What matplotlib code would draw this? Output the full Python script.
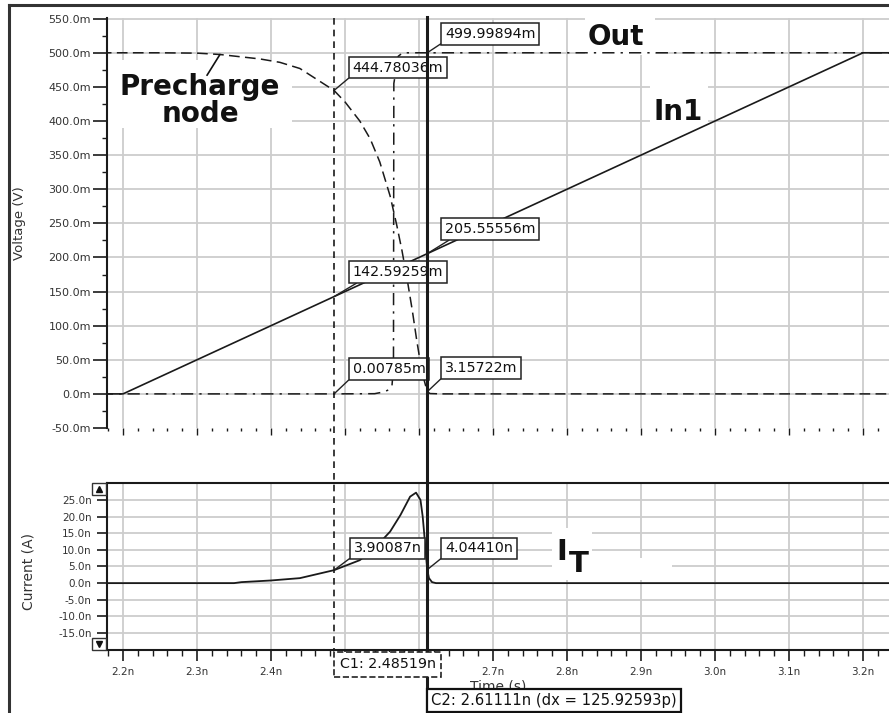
import numpy as np
import matplotlib
matplotlib.use("Agg")
import matplotlib.pyplot as plt
from matplotlib.patches import Rectangle
from matplotlib.lines import Line2D
from matplotlib.ticker import FuncFormatter, MultipleLocator
import matplotlib.transforms as mtransforms

# ---------------- waveform data ----------------
# In1 input ramp (time in ns, voltage in mV)
in1_t = [2.17, 2.20, 3.20, 3.24]
in1_mv = [0.0, 0.0, 500.0, 500.0]

# Precharge node discharge (mV)
pre_t = [2.17, 2.25, 2.30, 2.331, 2.385, 2.412, 2.439, 2.48519, 2.500, 2.520,
         2.534, 2.547, 2.561, 2.570, 2.577, 2.584, 2.591, 2.597, 2.602, 2.607,
         2.61111, 2.615, 2.63, 3.24]
pre_mv = [500.0, 500.0, 499.5, 497.5, 491.0, 486.0, 477.0, 444.78036, 428.0, 400.0,
          374.0, 340.0, 290.0, 247.0, 210.0, 168.0, 122.0, 78.0, 45.0, 20.0,
          3.15722, 0.5, 0.0, 0.0]

# Out node (mV)
out_t = [2.17, 2.48519, 2.54, 2.553, 2.559, 2.5635, 2.5655, 2.566, 2.572, 2.578,
         2.61111, 3.24]
out_mv = [0.0, 0.00785, 0.3, 3.0, 6.0, 12.0, 40.0, 455.0, 495.0, 500.0,
          499.99894, 500.0]

# Supply current I_T (nA)
it_t = [2.17, 2.35, 2.36, 2.40, 2.439, 2.48519, 2.520, 2.540, 2.561, 2.575,
        2.588, 2.596, 2.602, 2.605, 2.607, 2.61111, 2.6135, 2.6176, 2.623, 3.24]
it_na = [0.0, 0.0, 0.3, 0.8, 1.5, 3.90087, 6.9, 10.5, 15.5, 20.5,
         26.0, 27.2, 25.0, 20.0, 15.0, 4.04410, 1.5, 0.3, 0.0, 0.0]

# Cursor positions (ns)
c1_time = 2.48519
c2_time = 2.61111
cursor_text_c1 = "C1: 2.48519n"
cursor_text_c2 = "C2: 2.61111n (dx = 125.92593p)"

# Axis ticks
time_ticks = [2.2, 2.3, 2.4, 2.5, 2.6, 2.7, 2.8, 2.9, 3.0, 3.1, 3.2]
time_labels = ["2.2n", "2.3n", "2.4n", "", "", "2.7n", "2.8n", "2.9n", "3.0n", "3.1n", "3.2n"]
volt_ticks = list(range(-50, 551, 50))
curr_ticks = list(range(-15, 26, 5))

# ---------------- figure layout ----------------
W, H = 889, 713
fig = plt.figure(figsize=(W / 100, H / 100), dpi=100)
fig.patch.set_facecolor("white")


def fx(px):
    return px / W


def fy(py):
    return 1 - py / H


T_MIN, T_MAX = 2.178378, 3.235135
INK = "#1a1a1a"
GRID = "#cdcdcd"
LBL = "#333333"

ax_v = fig.add_axes([fx(107), fy(428), 1 - fx(107), fy(18) - fy(428)])
ax_i = fig.add_axes([fx(107), fy(650), 1 - fx(107), fy(483) - fy(650)])

for ax in (ax_v, ax_i):
    ax.set_xlim(T_MIN, T_MAX)
    ax.set_axisbelow(True)
    ax.set_xticks(time_ticks)
    ax.xaxis.set_minor_locator(MultipleLocator(0.02))
    for t in time_ticks:
        ax.axvline(t, color=GRID, lw=1.3, zorder=0.5)
    ax.spines["right"].set_visible(False)

ax_v.set_ylim(-50, 551)
ax_i.set_ylim(-20.1, 30.1)

for v in volt_ticks[1:]:
    ax_v.axhline(v, color=GRID, lw=1.3, zorder=0.5)
for v in curr_ticks:
    ax_i.axhline(v, color=GRID, lw=1.3, zorder=0.5)

# voltage axis styling
ax_v.spines["top"].set_visible(False)
ax_v.spines["bottom"].set_visible(False)
ax_v.spines["left"].set_linewidth(1.5)
ax_v.spines["left"].set_color(INK)
ax_v.set_yticks(volt_ticks)
ax_v.set_yticks(list(range(-25, 551, 50)), minor=True)
ax_v.yaxis.set_major_formatter(FuncFormatter(lambda v, _: f"{v:.1f}m"))
ax_v.tick_params(axis="y", which="major", direction="out", length=10, width=1.2,
                 pad=1.5, labelsize=8, color=INK, labelcolor=LBL)
ax_v.tick_params(axis="y", which="minor", direction="out", length=3.5, width=1.0, color=INK)
ax_v.tick_params(axis="x", which="major", direction="out", length=5, width=1.0,
                 labelbottom=False, color=INK)
ax_v.tick_params(axis="x", which="minor", direction="out", length=2, width=1.0, color=INK)

# current axis styling
for s in ("left", "top", "bottom"):
    ax_i.spines[s].set_linewidth(1.5)
    ax_i.spines[s].set_color(INK)
ax_i.set_yticks(curr_ticks)
ax_i.yaxis.set_major_formatter(FuncFormatter(lambda v, _: f"{v:.1f}n"))
ax_i.set_xticklabels(time_labels)
ax_i.tick_params(axis="y", which="major", direction="out", length=7, width=1.2,
                 pad=4, labelsize=7.5, color=INK, labelcolor=LBL)
ax_i.tick_params(axis="x", which="major", direction="out", length=8, width=1.2,
                 pad=4, labelsize=7.5, color=INK, labelcolor=LBL)
ax_i.tick_params(axis="x", which="minor", direction="out", length=4, width=1.0, color=INK)


# white label backgrounds (pixel rectangles)
def blank(ax, x0, y0, x1, y1):
    ax.add_artist(Rectangle((fx(x0), fy(y1)), fx(x1) - fx(x0), fy(y0) - fy(y1),
                            transform=fig.transFigure, facecolor="white",
                            edgecolor="none", zorder=1))


blank(ax_v, 107, 60, 292, 128)
blank(ax_v, 585, 0, 655, 55)
blank(ax_v, 650, 86, 708, 123)
blank(ax_i, 552, 528, 592, 560)
blank(ax_i, 552, 558, 672, 580)

# ---------------- waveforms ----------------
ax_v.plot(in1_t, in1_mv, color=INK, lw=1.2, zorder=2)
ax_v.plot(pre_t, pre_mv, color=INK, lw=1.1, ls=(0, (7, 3.5)), zorder=2)
ax_v.plot(out_t, out_mv, color=INK, lw=1.1, ls=(0, (8, 4, 1.5, 4)), zorder=2)
ax_i.plot(it_t, it_na, color=INK, lw=1.3, zorder=2)

# curve names
bold = dict(family="DejaVu Sans", weight="bold", color="#111111", zorder=3)
fig.text(fx(200), fy(95), "Precharge", ha="center", va="baseline", fontsize=20, **bold)
fig.text(fx(200), fy(122), "node", ha="center", va="baseline", fontsize=20, **bold)
fig.text(fx(588), fy(45), "Out", ha="left", va="baseline", fontsize=20, **bold)
fig.text(fx(653), fy(120), "In1", ha="left", va="baseline", fontsize=20, **bold)
fig.text(fx(556), fy(560), "I", ha="left", va="baseline", fontsize=21, **bold)
fig.text(fx(569), fy(572), "T", ha="left", va="baseline", fontsize=21, **bold)
ax_v.annotate("", xy=(2.331, 497.5), xytext=(2.3135, 467),
              arrowprops=dict(arrowstyle="-", lw=1.2, color="#111111",
                              shrinkA=0, shrinkB=0), zorder=3)


# ---------------- cursor readouts ----------------
def readout(ax, t, val, unit, dx, dy, rel=(0, 0)):
    fs = 10.3
    pad_px = 3.7
    ax.annotate(f"{val:.5f}{unit}", xy=(t, val),
                xytext=(dx + pad_px, dy + pad_px), textcoords="offset pixels",
                ha="left", va="bottom", fontsize=fs, family="DejaVu Sans",
                color="#111111",
                bbox=dict(boxstyle=f"square,pad={pad_px / (fs * 100 / 72):.3f}",
                          fc="white", ec="#222222", lw=1.1),
                arrowprops=dict(arrowstyle="-", color="#222222", lw=1.0,
                                relpos=rel, shrinkA=0, shrinkB=0),
                zorder=4, annotation_clip=False)


readout(ax_v, c2_time, 499.99894, "m", 14, 8)
readout(ax_v, c1_time, 444.78036, "m", 15, 12)
readout(ax_v, c2_time, 205.55556, "m", 14, 14, rel=(0.12, 0))
readout(ax_v, c1_time, 142.59259, "m", 15, 14, rel=(0.12, 0))
readout(ax_v, c1_time, 0.00785, "m", 15, 14)
readout(ax_v, c2_time, 3.15722, "m", 14, 13)
readout(ax_i, c1_time, 3.90087, "n", 16, 11)
readout(ax_i, c2_time, 4.04410, "n", 14, 10.6)

# ---------------- cursors ----------------
blend = mtransforms.blended_transform_factory(ax_v.transData, fig.transFigure)
fig.add_artist(Line2D([c1_time, c1_time], [fy(18), fy(651)], transform=blend,
                      color=INK, lw=1.2, ls=(0, (4, 3)), zorder=5))
fig.add_artist(Line2D([c2_time, c2_time], [fy(17), 0], transform=blend,
                      color=INK, lw=2.2, zorder=5))

fig.text(fx(498), fy(679), "Time (s)", ha="center", va="top", fontsize=10,
         color=LBL, zorder=1)

c1_tr = mtransforms.offset_copy(blend, fig=fig, x=5.5, y=5.5, units="dots")
fig.text(c1_time, fy(677), cursor_text_c1, transform=c1_tr, ha="left", va="bottom",
         fontsize=10.3, color="#111111", zorder=6,
         bbox=dict(boxstyle="square,pad=0.38", fc="white", ec="#222222", lw=1.2, ls="--"))
c2_tr = mtransforms.offset_copy(blend, fig=fig, x=4, y=4, units="dots")
fig.text(c2_time, fy(712), cursor_text_c2, transform=c2_tr, ha="left", va="bottom",
         fontsize=10.6, color="#111111", zorder=6,
         bbox=dict(boxstyle="square,pad=0.3", fc="white", ec="#111111", lw=1.6))

# ---------------- axis titles ----------------
fig.text(fx(20), fy(223), "Voltage (V)", rotation=90, ha="center", va="center",
         fontsize=9.5, color=LBL)
fig.text(fx(29), fy(572), "Current (A)", rotation=90, ha="center", va="center",
         fontsize=10, color=LBL)

# ---------------- window frame and scroll buttons ----------------
fig.add_artist(Line2D([fx(9), 1], [fy(5), fy(5)], transform=fig.transFigure,
                      color="#333333", lw=2.2))
fig.add_artist(Line2D([fx(9), fx(9)], [fy(5), 0], transform=fig.transFigure,
                      color="#333333", lw=2.2))
for (y0, y1, mk) in ((483, 495, "^"), (638, 650, "v")):
    fig.add_artist(Rectangle((fx(92), fy(y1)), fx(106) - fx(92), fy(y0) - fy(y1),
                             transform=fig.transFigure, facecolor="white",
                             edgecolor="#333333", lw=1.0, zorder=6))
    fig.add_artist(Line2D([fx(99)], [fy((y0 + y1) / 2)], transform=fig.transFigure,
                          marker=mk, ms=5, color="#111111", lw=0, zorder=7))

fig.savefig("out.png", dpi=100, facecolor="white")
